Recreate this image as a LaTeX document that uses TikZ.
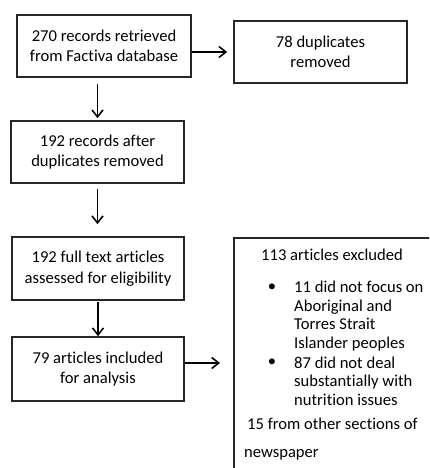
\documentclass[tikz,border=0pt]{standalone}
\usepackage{fontspec}
\setmainfont{Carlito}[Ligatures=NoCommon, RawFeature={-liga;-calt}]
\usetikzlibrary{arrows.meta, positioning}

\begin{document}
\begin{tikzpicture}[x=1pt, y=1pt, font=\fontsize{16.6}{20.5}\selectfont,
            box/.style={draw=black!85, line width=1.6pt, align=center, inner sep=0pt},
            flow/.style={-{Straight Barb[length=7pt, width=11pt, line width=1.6pt]}, line width=1.6pt},
            listtext/.style={anchor=west, align=left, inner sep=0pt, font=\fontsize{16.6}{18.6}\selectfont}]

            % page frame (the last box runs off the page)
            \path[use as bounding box, clip] (0,0) rectangle (429,-468);

            % Left column of records
            \node[box, minimum width=174, minimum height=62] (retrieved) at (104,-46) {270 records retrieved\\from Factiva database};
            \node[box, minimum width=173, minimum height=62] (afterdup) at (97.5,-152) {192 records after\\duplicates removed};
            \node[box, minimum width=172, minimum height=63] (fulltext) at (98,-268.5) {192 full text articles\\assessed for eligibility};
            \node[box, minimum width=172, minimum height=64] (included) at (98,-369) {79 articles included\\for analysis};

            % Right column
            \node[box, minimum width=173, minimum height=62] (duplicates) at (320.5,-52) {78 duplicates\\removed};
            \node[box, draw=none, anchor=north west, minimum width=320, minimum height=320] (excluded) at (234,-238) {};
            \draw[black!85, line width=1.6pt] (excluded.south west) -- (excluded.north west) -- (excluded.north east);

            % Exclusion details
            \node (exctitle) at (332,-255) {113 articles excluded};
            \node (bullet1) at (272,-288) {\textbullet};
            \node[listtext] (reason1) at (294,-316) {11 did not focus on\\Aboriginal and\\Torres Strait\\Islander peoples};
            \node (bullet2) at (272,-363) {\textbullet};
            \node[listtext] (reason2) at (294,-381) {87 did not deal\\substantially with\\nutrition issues};
            \node[listtext] (othersect) at (247,-424) {15 from other sections of};
            \node[listtext] (newspaper) at (244,-455) {newspaper};

            % Connectors
            \draw[flow, shorten >=6pt] (retrieved.east |- duplicates.west) -- (duplicates.west);
            \draw[flow, shorten <=6pt, shorten >=2pt] (afterdup.north |- retrieved.south) -- (afterdup.north);
            \draw[flow, shorten <=5pt, shorten >=12pt] (afterdup.south) -- (afterdup.south |- fulltext.north);
            \draw[flow, shorten <=1pt] (fulltext.south) -- (included.north);
            \draw[flow, shorten >=14pt] ([yshift=6pt]included.east) -- ([yshift=6pt]included.east -| excluded.west);
        \end{tikzpicture}
\end{document}
